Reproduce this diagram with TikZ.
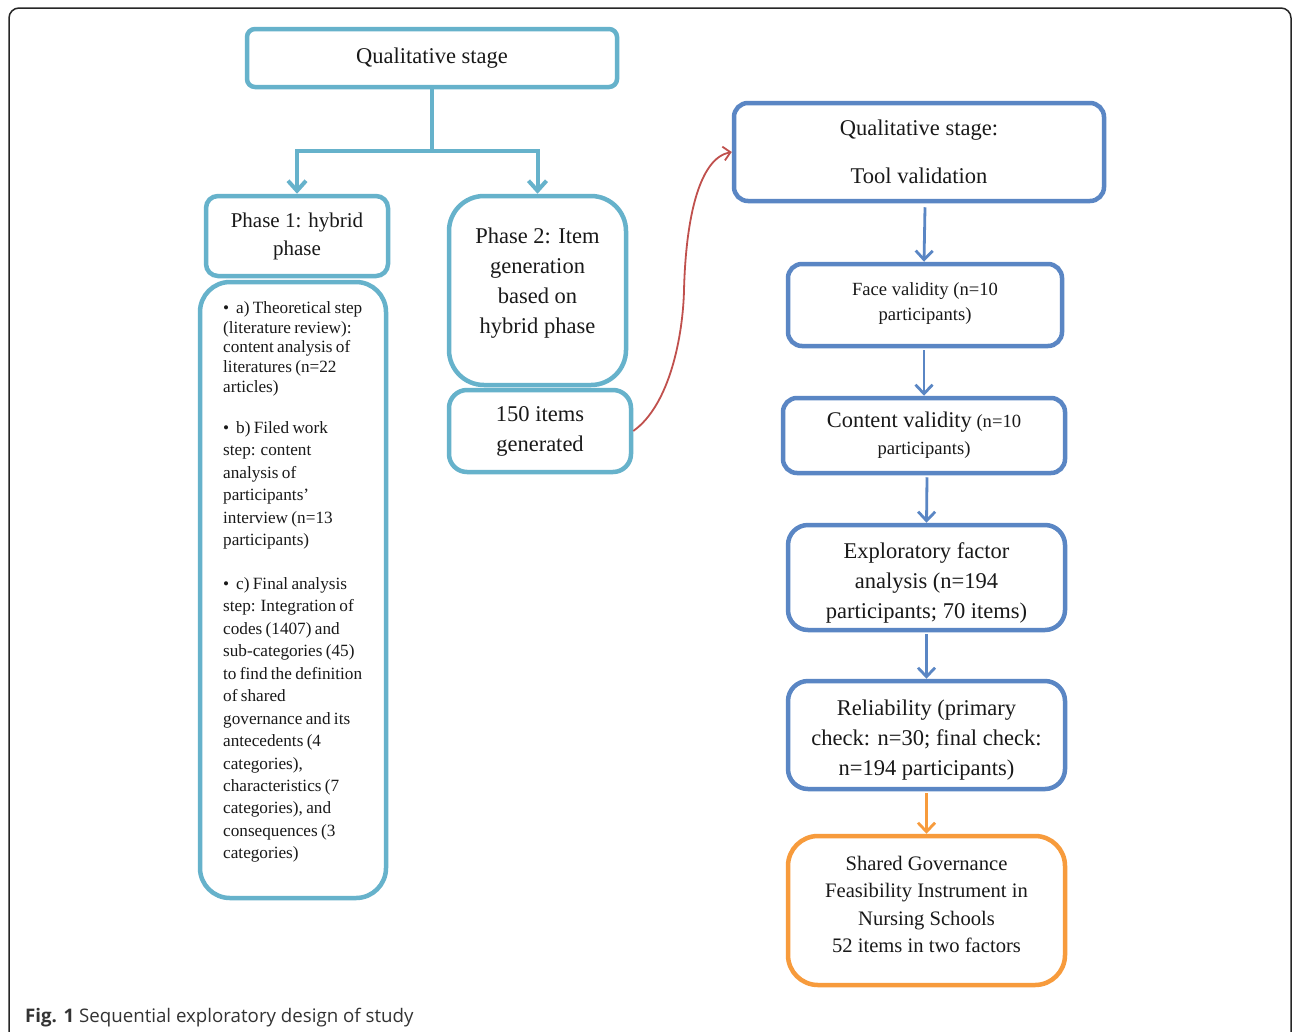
\documentclass[tikz,border=0pt]{standalone}
\usepackage{fontspec}
\setmainfont{Liberation Serif}
\newfontfamily\capfont{Open Sans}
\usetikzlibrary{arrows.meta}
\definecolor{lb}{RGB}{102,178,203}
\definecolor{db}{RGB}{90,134,196}
\definecolor{og}{RGB}{247,155,60}
\definecolor{rd}{RGB}{192,80,77}
\newcommand{\fsz}[2]{\fontsize{#1}{#2}\selectfont}
\begin{document}
\begin{tikzpicture}[x=1pt,y=-1pt,
  box/.style={draw, line width=4.5pt, align=center, inner sep=0pt, text=black!90},
  lbbox/.style={box, draw=lb},
  dbbox/.style={box, draw=db},
  ogbox/.style={box, draw=og},
  big/.style={font=\fsz{22.5}{30}},
  lbline/.style={draw=lb, line width=4pt},
  lbarrow/.style={lbline, -{Straight Barb[length=10pt,width=18pt,line width=4pt]}},
  dbarrow/.style={draw=db, line width=2.8pt, -{Straight Barb[length=9pt,width=17pt,line width=2.8pt]}},
  ogarrow/.style={draw=og, line width=2.8pt, -{Straight Barb[length=9pt,width=17pt,line width=2.8pt]}},
  rdarrow/.style={draw=rd, line width=1.8pt, -{Straight Barb[length=7pt,width=14pt,line width=1.8pt]}},
  frame/.style={draw=black!85, line width=1.5pt, rounded corners=10pt}
]
\useasboundingbox (0,0) rectangle (1292,1031);
\fill[white] (0,0) rectangle (1292,1031);
% outer frame
\draw[frame] (9,1040) -- (9,8) -- (1291,8) -- (1291,1040);

% left part
\node[lbbox, big, minimum width=370pt, minimum height=58pt, rounded corners=8pt] (qs) at (432,58) {Qualitative stage\\[-26pt]};
\node[lbbox, font=\fsz{21}{28}, minimum width=182pt, minimum height=80pt, rounded corners=12pt] (p1) at (297,236) {Phase 1: hybrid\\phase};
\node[lbbox, minimum width=186pt, minimum height=616pt, rounded corners=30pt] (p1d) at (293,590) {};
\node[anchor=north west, inner sep=0pt, text width=165pt, align=left, text=black!90] (p1dt) at (223,301.5) {%
{\fsz{17.2}{19.6}•\hspace{7pt}a) Theoretical step\\(literature review):\\content analysis of\\literatures (n=22\\articles)\par}
\vspace{18.5pt}
{\fsz{17.2}{22.5}•\hspace{7pt}b) Filed work\\step: content\\analysis of\\participants’\\interview (n=13\\participants)\par}
\vspace{21.5pt}
{\fsz{17.2}{22.45}•\hspace{7pt}c) Final analysis\\step: Integration of\\codes (1407) and\\sub-categories (45)\\to find the definition\\of shared\\governance and its\\antecedents (4\\categories),\\characteristics (7\\categories), and\\consequences (3\\categories)\par}};
\node[lbbox, big, minimum width=177pt, minimum height=189pt, rounded corners=35pt] (p2) at (537.5,290.5) {Phase 2: Item\\generation\\based on\\hybrid phase\\[-11pt]};
\node[lbbox, big, minimum width=182pt, minimum height=82pt, rounded corners=18pt] (gen) at (540,431) {150 items\\generated};

\coordinate (split) at (432,151);
\draw[lbline] (qs.south) -- (split);
\draw[lbarrow] (split) -| (p1.north);
\draw[lbarrow] (split) -| (p2.north);

% right part
\node[dbbox, font=\fsz{22.5}{26}, minimum width=370pt, minimum height=98pt, rounded corners=14pt] (tv) at (919,152) {Qualitative stage:\\[22pt]Tool validation};
\node[dbbox, font=\fsz{18.6}{25}, minimum width=274pt, minimum height=82pt, rounded corners=14pt] (fv) at (925,305) {Face validity (n=10\\participants)\\[-19pt]};
\node[dbbox, font=\fsz{18.6}{27}, minimum width=282pt, minimum height=75pt, rounded corners=14pt] (cv) at (924,435.5) {{\fsz{22.4}{27}Content validity} (n=10\\participants)};
\node[dbbox, big, minimum width=277pt, minimum height=105pt, rounded corners=20pt] (efa) at (926.5,577.5) {\rule{0pt}{26.5pt}Exploratory factor\\analysis (n=194\\participants; 70 items)};
\node[dbbox, big, minimum width=277pt, minimum height=108pt, rounded corners=20pt] (rel) at (926.5,735) {\rule{0pt}{25.5pt}Reliability (primary\\check: n=30; final check:\\n=194 participants)};
\node[ogbox, font=\fsz{20.6}{27.5}, minimum width=277pt, minimum height=149pt, rounded corners=30pt] (sg) at (926.5,910.5) {Shared Governance\\Feasibility Instrument in\\Nursing Schools\\52 items in two factors\\[-15.5pt]};

\draw[dbarrow] ([yshift=-4pt]tv.south -| fv.north) -- ([xshift=-1pt]fv.north);
\draw[dbarrow] ([xshift=-1pt,yshift=-2pt]fv.south) -- ([xshift=-1pt]fv.south |- cv.north);
\draw[dbarrow] ([xshift=3pt,yshift=-2pt]cv.south) -- (efa.north);
\draw[dbarrow] ([yshift=-2pt]efa.south) -- (rel.north);
\draw[ogarrow] ([yshift=-2pt]rel.south) -- (sg.north);

% red curve
\draw[rdarrow] (gen.east) .. controls (670,405) and (683,335) .. (684,290) .. controls (686,215) and (700,158) .. (tv.west);

% caption
\node[anchor=base west, inner sep=0pt, font=\capfont\fsz{18.7}{22}, text=black!80] (cap) at (25,1022) {\textbf{Fig. 1} Sequential exploratory design of study};
\end{tikzpicture}
\end{document}
